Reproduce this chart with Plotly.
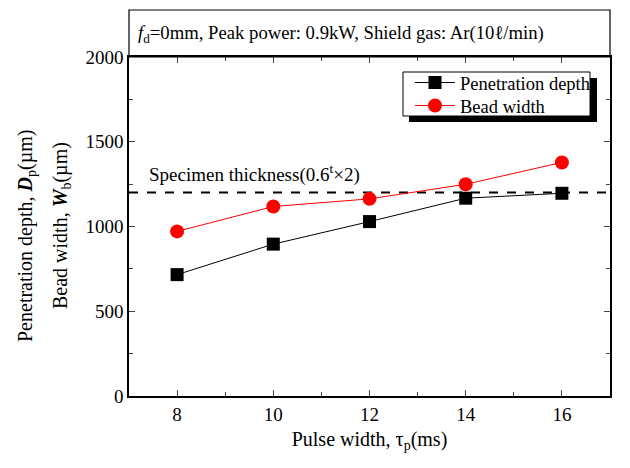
import plotly.graph_objects as go

pulse_width = [8, 10, 12, 14, 16]
penetration_depth = [716, 896, 1029, 1167, 1196]
bead_width = [971, 1118, 1163, 1249, 1378]
specimen_thickness = 1200

FONT = "Liberation Serif, Times New Roman, serif"

L, R, T, B = 129, 610, 57, 396
PW, PH = R - L, B - T

fig = go.Figure()
fig.add_trace(go.Scatter(
    x=pulse_width, y=penetration_depth, mode="lines+markers",
    name="Penetration depth", legend="legend",
    line=dict(color="black", width=1),
    marker=dict(symbol="square", size=13, color="black"),
))
fig.add_trace(go.Scatter(
    x=pulse_width, y=bead_width, mode="lines+markers",
    name="Bead width", legend="legend2",
    line=dict(color="red", width=1),
    marker=dict(symbol="circle", size=14, color="#ff0000"),
))

# Specimen thickness dashed line
fig.add_shape(type="line", xref="paper", x0=0, x1=1, yref="y",
              y0=specimen_thickness, y1=specimen_thickness,
              line=dict(color="black", width=2, dash="dash"), layer="below")
fig.add_annotation(xref="paper", x=(147 - L) / PW, yref="y", y=1310,
                   text="Specimen thickness(0.6<sup>t</sup>×2)",
                   showarrow=False, xanchor="left", yanchor="middle",
                   font=dict(family=FONT, size=19, color="black"))

# Top condition box
box_h = 47 / PH
fig.add_shape(type="rect", xref="paper", yref="paper", x0=0, x1=1,
              y0=1, y1=1 + box_h, line=dict(color="black", width=1.2))
fig.add_annotation(xref="paper", yref="paper", x=(136 - L) / PW, y=1 + box_h / 2,
                   text="<i>f</i><sub>d</sub>=0mm, Peak power: 0.9kW, Shield gas: Ar(10ℓ/min)",
                   showarrow=False, xanchor="left", yanchor="middle",
                   font=dict(family=FONT, size=18.7, color="black"))

# Y axis title (two lines)
fig.add_annotation(xref="paper", yref="paper", x=0, xshift=26 - L, y=(B - 236) / PH,
                   text="Penetration depth, <b><i>D</i></b><sub>p</sub>(µm)",
                   textangle=-90, showarrow=False, xanchor="center", yanchor="middle",
                   font=dict(family=FONT, size=20, color="black"))
fig.add_annotation(xref="paper", yref="paper", x=0, xshift=61 - L, y=(B - 226) / PH,
                   text="Bead width, <b><i>W</i></b><sub>b</sub>(µm)",
                   textangle=-90, showarrow=False, xanchor="center", yanchor="middle",
                   font=dict(family=FONT, size=20, color="black"))

# Legend frame with shadow
def px_x(v):
    return (v - L) / PW

def px_y(v):
    return (B - v) / PH

fig.add_shape(type="rect", xref="paper", yref="paper",
              x0=px_x(409), x1=px_x(597), y0=px_y(122), y1=px_y(78),
              fillcolor="black", line=dict(width=0), layer="above")
fig.add_shape(type="rect", xref="paper", yref="paper",
              x0=px_x(403), x1=px_x(590), y0=px_y(116), y1=px_y(72),
              fillcolor="white", line=dict(color="black", width=1), layer="above")

leg_common = dict(xanchor="left", yanchor="middle", bgcolor="rgba(0,0,0,0)",
                  borderwidth=0, itemwidth=40,
                  font=dict(family=FONT, size=18.5, color="black"))

fig.update_layout(
    width=630, height=468,
    margin=dict(l=L, r=630 - R, t=T, b=468 - B, autoexpand=False),
    paper_bgcolor="white", plot_bgcolor="white",
    font=dict(family=FONT, size=19, color="black"),
    showlegend=True,
    legend=dict(x=px_x(410), y=px_y(83), **leg_common),
    legend2=dict(x=px_x(410), y=px_y(106), **leg_common),
    xaxis=dict(range=[7, 17], tickvals=pulse_width, ticks="inside", ticklen=6,
               showline=True, linecolor="black", linewidth=1.5, mirror="allticks",
               showgrid=False, zeroline=False, automargin=False,
               minor=dict(ticks="inside", ticklen=4, dtick=1, tick0=7, showgrid=False),
               tickfont=dict(family=FONT, size=19),
               title=dict(text="Pulse width, τ<sub>p</sub>(ms)", standoff=8,
                          font=dict(family=FONT, size=20))),
    yaxis=dict(range=[0, 2000], dtick=500, ticks="inside", ticklen=6,
               showline=True, linecolor="black", linewidth=1.5, mirror="allticks",
               showgrid=False, zeroline=False, automargin=False,
               minor=dict(ticks="inside", ticklen=4, dtick=250, showgrid=False),
               tickfont=dict(family=FONT, size=19)),
)

fig.write_html("out.html", config={"displayModeBar": False},
               post_script="document.body.style.margin='0';")
